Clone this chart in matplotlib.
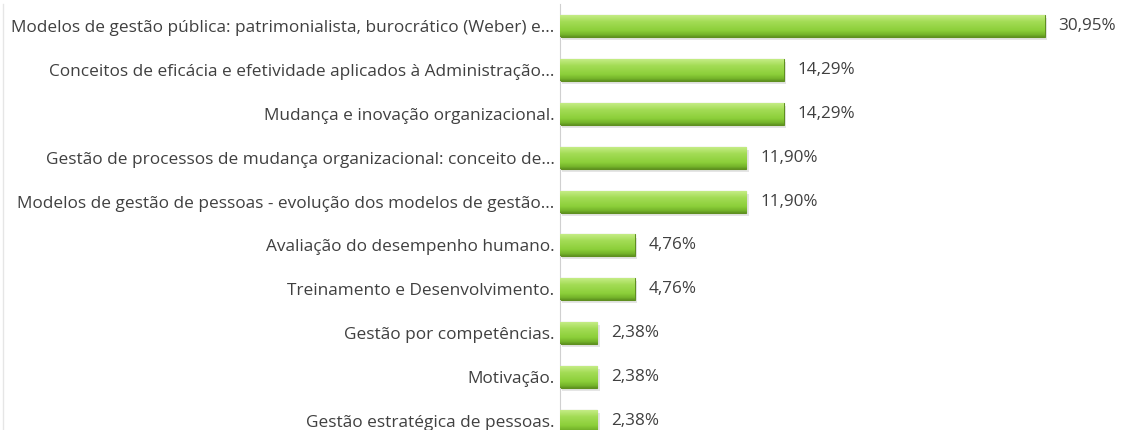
import numpy as np
import matplotlib.pyplot as plt
from matplotlib.colors import LinearSegmentedColormap

plt.rcParams["font.family"] = ["Open Sans", "DejaVu Sans"]

labels = [
    "Modelos de gestão pública: patrimonialista, burocrático (Weber) e...",
    "Conceitos de eficácia e efetividade aplicados à Administração...",
    "Mudança e inovação organizacional.",
    "Gestão de processos de mudança organizacional: conceito de...",
    "Modelos de gestão de pessoas - evolução dos modelos de gestão...",
    "Avaliação do desempenho humano.",
    "Treinamento e Desenvolvimento.",
    "Gestão por competências.",
    "Motivação.",
    "Gestão estratégica de pessoas.",
]
values = [30.95, 14.29, 14.29, 11.90, 11.90, 4.76, 4.76, 2.38, 2.38, 2.38]

W, H = 1123, 430
fig = plt.figure(figsize=(W / 100, H / 100), dpi=100)
ax = fig.add_axes([560 / W, 0, 548 / W, 1])

y = np.arange(len(values))
bar_h = 0.5

# soft shadow under the bars
ax.barh(y + 0.07, values, height=bar_h, left=0.15, color="#000000",
        alpha=0.10, zorder=1)
bars = ax.barh(y, values, height=bar_h, color="#8fd13f",
               edgecolor="#5f8f20", linewidth=0.8, zorder=2)

# vertical gradient to mimic the bevelled look
cmap = LinearSegmentedColormap.from_list(
    "g", [(0, "#c4ec85"), (0.3, "#a3dc55"), (0.7, "#8ccf3a"),
          (0.9, "#74b32a"), (1, "#5f9320")])
grad = np.linspace(0, 1, 64).reshape(-1, 1)
for b in bars:
    x0, y0, w, h = b.get_x(), b.get_y(), b.get_width(), b.get_height()
    im = ax.imshow(grad, cmap=cmap, aspect="auto",
                   extent=[x0, x0 + w, y0 + h, y0], zorder=3)
    im.set_clip_path(b)

for yi, v in zip(y, values):
    ax.annotate(f"{v:.2f}%".replace(".", ","), (v, yi), xytext=(10, 0),
                textcoords="offset points", va="center", ha="left",
                fontsize=12.3, color="#404040")

ax.set_xlim(0, 35)
ax.set_ylim(9 + 9 / 44, -26 / 44)
ax.set_yticks(y)
ax.set_yticklabels(labels, fontsize=12.4, color="#404040")
ax.tick_params(axis="y", length=0, pad=4)
ax.set_xticks([])
for s in ["top", "right", "bottom"]:
    ax.spines[s].set_visible(False)
ax.spines["left"].set_color("#d0d0d0")
ax.spines["left"].set_bounds(9 + 9 / 44, -0.5)

# faint outer frame on the left edge
fig.add_artist(plt.Line2D([3 / W, 3 / W], [0, 0.99], color="#e6e6e6",
                          linewidth=1, transform=fig.transFigure))

fig.savefig("out.png", dpi=100)
